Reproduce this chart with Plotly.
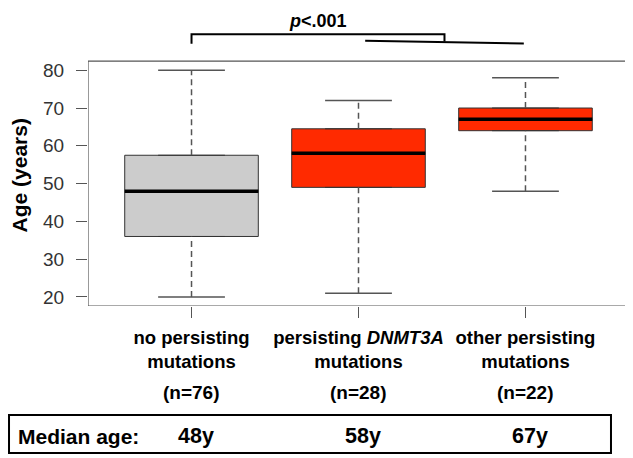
import plotly.graph_objects as go

# box statistics (years)
groups = ["no persisting<br>mutations", "persisting <i>DNMT3A</i><br>mutations", "other persisting<br>mutations"]
n_labels = ["(n=76)", "(n=28)", "(n=22)"]
whisker_lo = [20, 21, 48]
q1 = [36, 49, 64]
median = [48, 58, 67]
q3 = [57.5, 64.5, 70]
whisker_hi = [80, 72, 78]
median_age = ["48y", "58y", "67y"]
p_value = "p<.001"

box_fill = ["#cccccc", "#ff2a00", "#ff2a00"]
FONT = "Liberation Sans, Arial, Helvetica, sans-serif"
Y_LO, Y_HI = 17.6, 82.4  # framed part of the axis
X_LO, X_HI = 0.38, 3.62

pos = [i + 1 for i in range(len(groups))]

fig = go.Figure()

for i, x in enumerate(pos):
    # box body (whiskers collapsed, drawn separately as dashed lines)
    fig.add_trace(go.Box(
        x=[x], q1=[q1[i]], median=[median[i]], q3=[q3[i]],
        lowerfence=[q1[i]], upperfence=[q3[i]],
        width=0.8, fillcolor=box_fill[i],
        line=dict(color="#333333", width=1),
        boxpoints=False, showlegend=False, hoverinfo="skip",
    ))
    # dashed whiskers
    for a, b in [(whisker_lo[i], q1[i]), (q3[i], whisker_hi[i])]:
        fig.add_trace(go.Scatter(
            x=[x, x], y=[a, b], mode="lines",
            line=dict(color="#555555", width=1.5, dash="6px,4px"),
            showlegend=False, hoverinfo="skip",
        ))
    # staples
    for v in (whisker_lo[i], whisker_hi[i]):
        fig.add_trace(go.Scatter(
            x=[x - 0.2, x + 0.2], y=[v, v], mode="lines",
            line=dict(color="#555555", width=1.5),
            showlegend=False, hoverinfo="skip",
        ))
    # thick median
    fig.add_trace(go.Scatter(
        x=[x - 0.4, x + 0.4], y=[median[i], median[i]], mode="lines",
        line=dict(color="black", width=3.5),
        showlegend=False, hoverinfo="skip",
    ))

# significance bracket: group 1 vs groups 2+3
mid23 = (pos[1] + pos[2]) / 2 + 0.015
fig.add_trace(go.Scatter(
    x=[pos[0], pos[0], mid23, mid23], y=[87.0, 89.5, 89.5, 87.6], mode="lines",
    line=dict(color="black", width=2), showlegend=False, hoverinfo="skip",
))
fig.add_trace(go.Scatter(
    x=[pos[1] + 0.04, pos[2] - 0.01], y=[87.8, 87.1], mode="lines",
    line=dict(color="black", width=2), showlegend=False, hoverinfo="skip",
))

annotations = [
    dict(x=(pos[0] + mid23) / 2, y=0.997, xref="x", yref="paper", yanchor="middle",
         text="<b><i>p</i><.001</b>", showarrow=False,
         font=dict(size=18, color="black", family=FONT)),
    dict(x=-0.1265, y=0.455, xref="paper", yref="paper", textangle=-90,
         xanchor="center", yanchor="middle",
         text="<b>Age (years)</b>", showarrow=False,
         font=dict(size=21, color="black", family=FONT)),
    dict(x=-0.133, y=-0.455, xref="paper", yref="paper", xanchor="left", yanchor="middle",
         text="<b>Median age:</b>", showarrow=False,
         font=dict(size=21, color="black", family=FONT)),
]
for i, x in enumerate(pos):
    annotations.append(dict(x=x, y=-0.304, xref="x", yref="paper", xanchor="center", yanchor="middle",
                            text="<b>" + n_labels[i] + "</b>", showarrow=False,
                            font=dict(size=19, color="black", family=FONT)))
    annotations.append(dict(x=x + 0.025, y=-0.455, xref="x", yref="paper", xanchor="center", yanchor="middle",
                            text="<b>" + median_age[i] + "</b>", showarrow=False,
                            font=dict(size=21.5, color="black", family=FONT)))

shapes = [
    # plot frame
    dict(type="rect", xref="x", yref="y", x0=X_LO, x1=X_HI, y0=Y_LO, y1=Y_HI,
         line=dict(color="#555555", width=1.2), layer="below"),
    # median age box
    dict(type="rect", xref="paper", yref="paper", x0=-0.146, x1=0.9667, y0=-0.514, y1=-0.381,
         line=dict(color="black", width=2)),
]

# the page body adds an 8px margin, so the figure is 8px smaller on each axis
fig.update_layout(
    width=625, height=450,
    margin=dict(l=80, r=4, t=12, b=152),
    paper_bgcolor="white", plot_bgcolor="white",
    boxmode="overlay",
    font=dict(family=FONT),
    annotations=annotations,
    shapes=shapes,
)
fig.update_xaxes(
    range=[X_LO, X_HI], showgrid=False, zeroline=False, showline=False,
    tickmode="array", tickvals=pos, ticktext=["<b>" + g + "</b>" for g in groups],
    ticks="outside", ticklen=11, tickcolor="#555555", tickwidth=1.2,
    ticklabelstandoff=4,
    tickfont=dict(size=18.5, color="black", family=FONT),
)
fig.update_yaxes(
    range=[Y_LO, 93.3], showgrid=False, zeroline=False, showline=False,
    tickmode="array", tickvals=[20, 30, 40, 50, 60, 70, 80],
    ticks="outside", ticklen=11, tickcolor="#555555", tickwidth=1.2,
    ticklabelstandoff=8,
    tickfont=dict(size=19, color="#333333", family=FONT),
)

fig.write_html("out.html")
